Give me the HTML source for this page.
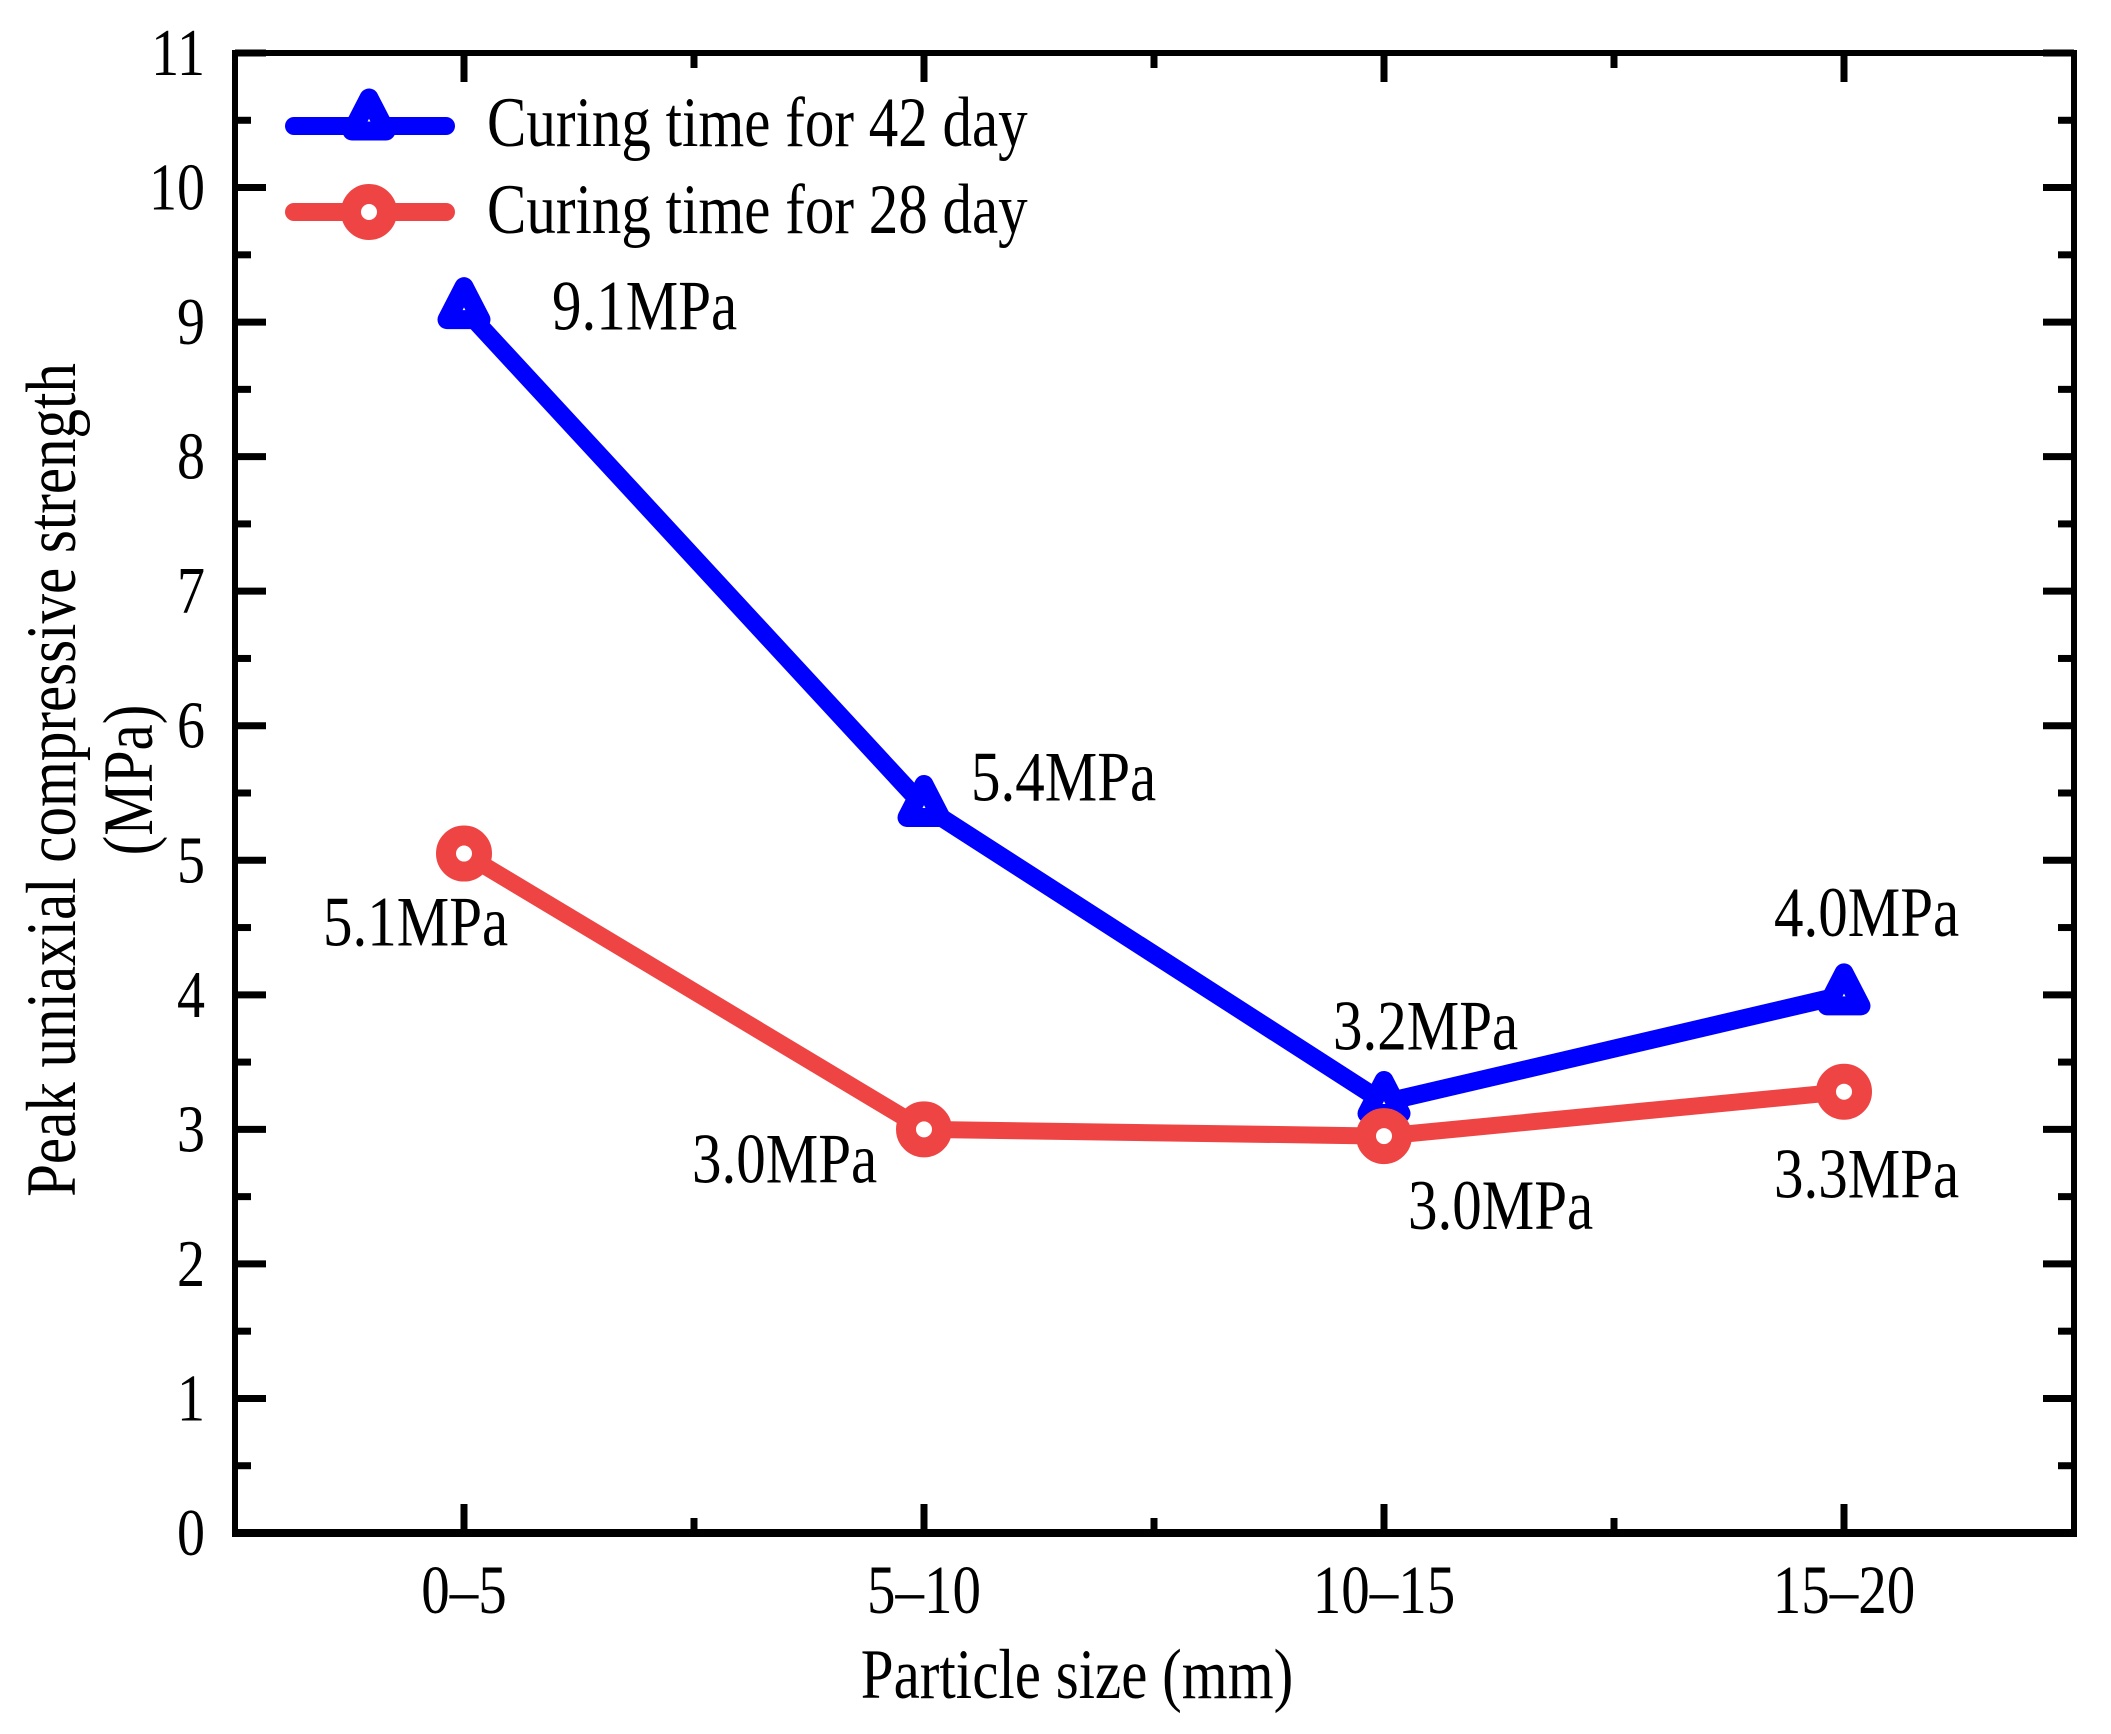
<!DOCTYPE html>
<html><head><meta charset="utf-8"><style>
html,body{margin:0;padding:0;background:#fff;}
svg{display:block;}
text{font-family:"Liberation Serif",serif;fill:#000;}
</style></head><body>
<svg id="chart" width="2111" height="1734" viewBox="0 0 2111 1734" xmlns="http://www.w3.org/2000/svg">
<rect width="2111" height="1734" fill="#fff"/>
<g id="grid"></g>
<g id="series"></g>
<g id="labels"></g>
<g id="legend"></g>
</svg>
<script>
const categories = ["0–5","5–10","10–15","15–20"];
const seriesBlue = [9.1, 5.4, 3.2, 4.0];
const seriesRed = [5.05, 3.0, 2.95, 3.28];
const blueLabels = ["9.1MPa","5.4MPa","3.2MPa","4.0MPa"];
const redLabels = ["5.1MPa","3.0MPa","3.0MPa","3.3MPa"];
const yTicks = [0,1,2,3,4,5,6,7,8,9,10,11];

const L=235,R=2074,T=53,B=1533;
const X=i=>464+i*460;
const Y=v=>B-(v/11)*(B-T);
const NS="http://www.w3.org/2000/svg";
const SY=1.2;
const TW=7;
function mk(tag,attrs,parent,txt){const e=document.createElementNS(NS,tag);for(const k in attrs)e.setAttribute(k,attrs[k]);if(txt!==undefined)e.textContent=txt;parent.appendChild(e);return e;}
function txt(x,y,s,size,anchor,parent,rot){
  const tr=`translate(${x},${y})`+(rot?` rotate(${rot})`:'')+` scale(1,${SY})`;
  return mk('text',{x:0,y:0,transform:tr,'font-size':size,'text-anchor':anchor},parent,s);
}
const grid=document.getElementById('grid'),ser=document.getElementById('series'),lab=document.getElementById('labels'),leg=document.getElementById('legend');

let fr=mk('rect',{x:L,y:T,width:R-L,height:B-T,fill:'none',stroke:'#000','stroke-width':6},grid);


mk('line',{x1:L-3,y1:B,x2:R+3,y2:B,stroke:'#000','stroke-width':8},grid);

yTicks.forEach(v=>{
  const y=Y(v);
  mk('line',{x1:L,y1:y,x2:L+31,y2:y,stroke:'#000','stroke-width':TW},grid);
  mk('line',{x1:R,y1:y,x2:R-31,y2:y,stroke:'#000','stroke-width':TW},grid);
  if(v<11){const ym=Y(v+0.5);
    mk('line',{x1:L,y1:ym,x2:L+16,y2:ym,stroke:'#000','stroke-width':TW},grid);
    mk('line',{x1:R,y1:ym,x2:R-16,y2:ym,stroke:'#000','stroke-width':TW},grid);}
  const t=txt(205,y+22,String(v),56,'end',grid);
  
  
});
categories.forEach((c,i)=>{
  const x=X(i);
  mk('line',{x1:x,y1:B,x2:x,y2:B-29,stroke:'#000','stroke-width':TW},grid);
  mk('line',{x1:x,y1:T,x2:x,y2:T+29,stroke:'#000','stroke-width':TW},grid);
  const t=txt(x,1613,c,57,'middle',grid);
  
  
  if(i<categories.length-1){const xm=X(i+0.5);
    mk('line',{x1:xm,y1:B,x2:xm,y2:B-15,stroke:'#000','stroke-width':TW},grid);
    mk('line',{x1:xm,y1:T,x2:xm,y2:T+15,stroke:'#000','stroke-width':TW},grid);}
});
let xt=txt(1077,1698,'Particle size (mm)',59,'middle',lab);


let yt=txt(75,780,'Peak uniaxial  compressive strength',59,'middle',lab,-90);


let yt2=txt(152,780,'(MPa)',59,'middle',lab,-90);



function tri(x,y,parent){return mk('path',{d:`M${x},${y-22} L${x+17},${y+11} L${x-17},${y+11} Z`,fill:'#fff',stroke:'#0000ff','stroke-width':19,'stroke-linejoin':'round'},parent);}
function circ(x,y,parent){return mk('circle',{cx:x,cy:y,r:18,fill:'#fff',stroke:'#ef4444','stroke-width':20},parent);}

let rp=mk('polyline',{points:seriesRed.map((v,i)=>X(i)+','+Y(v)).join(' '),fill:'none',stroke:'#ef4444','stroke-width':17,'stroke-linejoin':'round'},ser);


let bp=mk('polyline',{points:seriesBlue.map((v,i)=>X(i)+','+Y(v)).join(' '),fill:'none',stroke:'#0000ff','stroke-width':18,'stroke-linejoin':'round'},ser);


seriesBlue.forEach((v,i)=>{const m=tri(X(i),Y(v),ser);
  
  });
seriesRed.forEach((v,i)=>{const m=circ(X(i),Y(v),ser);
  
  });

const bOff=[[88,21],[47,-6],[-51,-53],[-70,-59]];
const rOff=[[-141,92],[-232,53],[24,93],[-70,106]];
seriesBlue.forEach((v,i)=>{const t=txt(X(i)+bOff[i][0],Y(v)+bOff[i][1],blueLabels[i],59,'start',lab);
  
  });
seriesRed.forEach((v,i)=>{const t=txt(X(i)+rOff[i][0],Y(v)+rOff[i][1],redLabels[i],59,'start',lab);
  
  });

mk('line',{x1:294,y1:126,x2:446,y2:126,stroke:'#0000ff','stroke-width':18,'stroke-linecap':'round'},leg);
tri(369,120,leg);
let l1=txt(487,146,'Curing time  for 42 day',59,'start',leg);


mk('line',{x1:294,y1:212,x2:446,y2:212,stroke:'#ef4444','stroke-width':18,'stroke-linecap':'round'},leg);
circ(369,212,leg);
let l2=txt(487,233,'Curing time  for 28 day',59,'start',leg);


</script>
</body></html>
